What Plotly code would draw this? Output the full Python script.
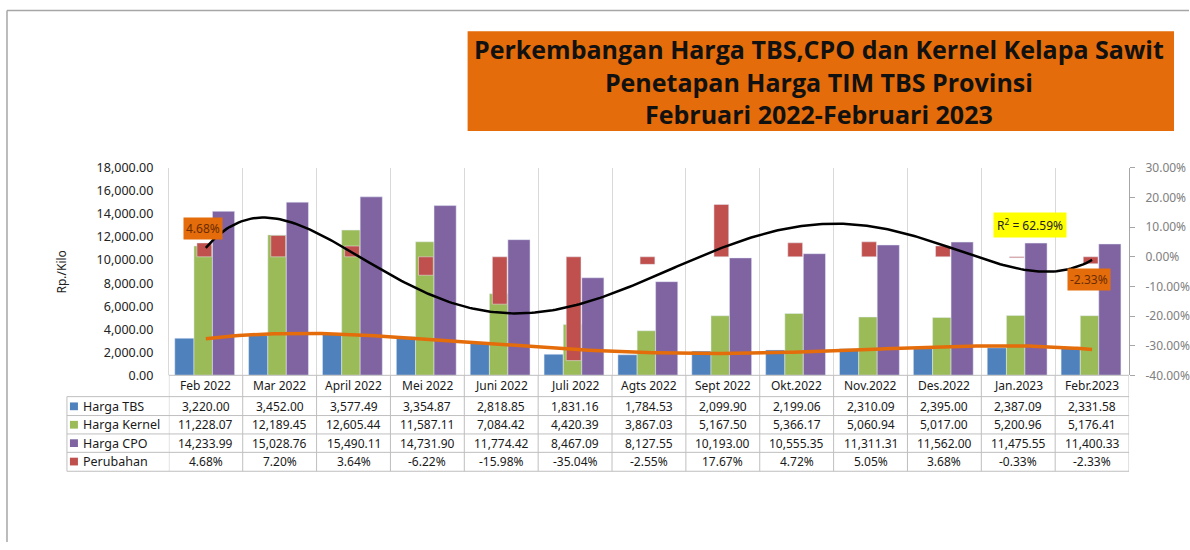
import numpy as np
import plotly.graph_objects as go

# ---------------- data ----------------
categories = ["Feb 2022", "Mar 2022", "April 2022", "Mei 2022", "Juni 2022", "Juli 2022",
              "Agts 2022", "Sept 2022", "Okt.2022", "Nov.2022", "Des.2022", "Jan.2023", "Febr.2023"]
harga_tbs = [3220.00, 3452.00, 3577.49, 3354.87, 2818.85, 1831.16, 1784.53, 2099.90,
             2199.06, 2310.09, 2395.00, 2387.09, 2331.58]
harga_kernel = [11228.07, 12189.45, 12605.44, 11587.11, 7084.42, 4420.39, 3867.03, 5167.50,
                5366.17, 5060.94, 5017.00, 5200.96, 5176.41]
harga_cpo = [14233.99, 15028.76, 15490.11, 14731.90, 11774.42, 8467.09, 8127.55, 10193.00,
             10555.35, 11311.31, 11562.00, 11475.55, 11400.33]
perubahan = [4.68, 7.20, 3.64, -6.22, -15.98, -35.04, -2.55, 17.67, 4.72, 5.05, 3.68, -0.33, -2.33]
left_ticks = [0, 2000, 4000, 6000, 8000, 10000, 12000, 14000, 16000, 18000]
right_ticks = [-40, -30, -20, -10, 0, 10, 20, 30]
title_lines = ["Perkembangan Harga TBS,CPO dan Kernel Kelapa Sawit",
               "Penetapan Harga TIM TBS Provinsi",
               "Februari 2022-Februari 2023"]
row_labels = ["Harga TBS", "Harga Kernel", "Harga CPO", "Perubahan"]
r2_label = "R<sup>2</sup> = 62.59%"

# ---------------- style ----------------
W, H = 1190, 550
C_TBS, C_KER, C_CPO, C_PER = "#4F81BD", "#9BBB59", "#8064A2", "#C0504D"
FONT = "Noto Sans"
PL, PR, PT, PB = 169, 1130, 164, 378   # plot area in px


def px(x):
    return x / W


def py(y):
    return 1 - y / H


n = len(categories)
idx = np.arange(n)

fig = go.Figure()
fig.add_trace(go.Bar(x=idx, y=harga_tbs, name="Harga TBS", marker_color=C_TBS,
                     offset=-0.42, width=0.26, yaxis="y"))
fig.add_trace(go.Bar(x=idx, y=harga_kernel, name="Harga Kernel", marker_color=C_KER,
                     offset=-0.16, width=0.25, yaxis="y"))
fig.add_trace(go.Bar(x=idx, y=harga_cpo, name="Harga CPO", marker_color=C_CPO,
                     offset=0.09, width=0.30, yaxis="y"))
fig.add_trace(go.Bar(x=idx, y=perubahan, name="Perubahan", marker_color=C_PER,
                     offset=-0.12, width=0.20, yaxis="y2"))

# trendlines (polynomial least-squares fits, as Excel does)
xs = np.linspace(0, n - 1, 300)
c_per = np.polyfit(idx + 1, perubahan, 6)          # R^2 = 62.59 %
fig.add_trace(go.Scatter(x=xs, y=np.polyval(c_per, xs + 1), mode="lines",
                         line=dict(color="black", width=2.5), yaxis="y2", hoverinfo="skip"))
c_tbs = np.polyfit(idx + 1, harga_tbs, 4)
fig.add_trace(go.Scatter(x=xs, y=np.polyval(c_tbs, xs + 1), mode="lines",
                         line=dict(color="#E46C0A", width=3.5), yaxis="y3", hoverinfo="skip"))

shapes = []
annotations = []

# outer frame
shapes.append(dict(type="line", xref="paper", yref="paper", x0=px(7), x1=px(W), y0=py(1.5), y1=py(1.5),
                   line=dict(color="#a6a6a6", width=1.5)))
shapes.append(dict(type="line", xref="paper", yref="paper", x0=px(7), x1=px(7), y0=py(1.5), y1=0,
                   line=dict(color="#a6a6a6", width=1.5)))

# title box
shapes.append(dict(type="rect", xref="paper", yref="paper", x0=px(468), x1=px(1175),
                   y0=py(126), y1=py(23), fillcolor="#E46C0A", line=dict(width=0), layer="below"))
annotations.append(dict(text="<br>".join(title_lines), xref="paper", yref="paper", x=px(820), y=py(75),
                        showarrow=False, xanchor="center", yanchor="middle", align="center",
                        font=dict(family="Open Sans", size=25, color="#111", weight="bold")))

# y-axis title
annotations.append(dict(text="Rp./Kilo", xref="paper", yref="paper", x=px(62), y=py(271),
                        showarrow=False, textangle=-90, xanchor="center", yanchor="middle",
                        font=dict(family=FONT, size=12, color="#222")))

# data labels
annotations.append(dict(text=f"{perubahan[0]:.2f}%", xref="x", yref="y2", x=0, y=perubahan[0],
                        xshift=-3, yshift=3, showarrow=False, xanchor="center", yanchor="bottom",
                        bgcolor="#E46C0A", borderpad=2,
                        font=dict(family=FONT, size=12, color="#6b2d00")))
annotations.append(dict(text=f"{perubahan[-1]:.2f}%", xref="x", yref="y2", x=n - 1, y=perubahan[-1],
                        xshift=-3, yshift=-4, showarrow=False, xanchor="center", yanchor="top",
                        bgcolor="#E46C0A", borderpad=2,
                        font=dict(family=FONT, size=12, color="#6b2d00")))
annotations.append(dict(text=r2_label, xref="x", yref="y2", x=11.16, y=10.7,
                        showarrow=False, xanchor="center", yanchor="middle", bgcolor="#FFFF00", borderpad=3,
                        font=dict(family=FONT, size=12, color="#222")))

# ---------------- data table ----------------
row_y = [410, 429, 448, 467]
hdr_y = 388
h_lines = [400, 419.5, 438.5, 457.5, 477]
grid_col = "#bfbfbf"
shapes.append(dict(type="line", xref="paper", yref="paper", x0=px(PL), x1=px(PR), y0=py(PB), y1=py(PB),
                   line=dict(color=grid_col, width=1)))
for hy in h_lines:
    shapes.append(dict(type="line", xref="paper", yref="paper", x0=px(67), x1=px(PR), y0=py(hy), y1=py(hy),
                       line=dict(color=grid_col, width=1)))
shapes.append(dict(type="line", xref="paper", yref="paper", x0=px(67), x1=px(67), y0=py(400), y1=py(477),
                   line=dict(color=grid_col, width=1)))
for b in np.arange(-0.5, n, 1.0):
    shapes.append(dict(type="line", xref="x", yref="paper", x0=b, x1=b, y0=py(PB), y1=py(477),
                       line=dict(color=grid_col, width=1)))

for i, cat in enumerate(categories):
    annotations.append(dict(text=cat, xref="x", yref="paper", x=i, y=py(hdr_y), showarrow=False,
                            xanchor="center", yanchor="middle",
                            font=dict(family=FONT, size=12, color="#1a1a1a")))
    vals = [f"{harga_tbs[i]:,.2f}", f"{harga_kernel[i]:,.2f}", f"{harga_cpo[i]:,.2f}",
            f"{perubahan[i]:.2f}%"]
    for v, ry in zip(vals, row_y):
        annotations.append(dict(text=v, xref="x", yref="paper", x=i, y=py(ry), showarrow=False,
                                xanchor="center", yanchor="middle",
                                font=dict(family=FONT, size=12, color="#1a1a1a")))

for lab, col, ry in zip(row_labels, (C_TBS, C_KER, C_CPO, C_PER), row_y):
    shapes.append(dict(type="rect", xref="paper", yref="paper", x0=px(70), x1=px(78),
                       y0=py(ry + 4), y1=py(ry - 4), fillcolor=col, line=dict(width=0)))
    annotations.append(dict(text=lab, xref="paper", yref="paper", x=px(81), y=py(ry), showarrow=False,
                            xanchor="left", yanchor="middle",
                            font=dict(family=FONT, size=12.5, color="#1a1a1a")))

fig.update_layout(
    width=W, height=H, margin=dict(l=0, r=0, t=0, b=0),
    paper_bgcolor="white", plot_bgcolor="white",
    barmode="overlay", showlegend=False,
    xaxis=dict(domain=[px(PL), px(PR)], range=[-0.5, n - 0.5],
               tickvals=list(np.arange(-0.5, n, 1.0)), showticklabels=False,
               showgrid=True, gridcolor="#d9d9d9", gridwidth=1, zeroline=False, showline=False, ticks=""),
    yaxis=dict(domain=[py(PB), py(PT)], range=[0, 18000], tickvals=left_ticks, tickformat=",.2f",
               showgrid=False, zeroline=False, showline=True, linecolor="#d9d9d9", ticks="",
               ticklabelstandoff=12, tickfont=dict(family=FONT, size=12.5, color="#222")),
    yaxis2=dict(overlaying="y", side="right", range=[-40, 30], tickvals=right_ticks,
                ticktext=[f"{v:.2f}%" for v in right_ticks], showgrid=False, zeroline=False,
                showline=True, linecolor="#a6a6a6", ticks="outside", ticklen=5, tickcolor="#a6a6a6",
                ticklabelstandoff=8, tickfont=dict(family=FONT, size=12, color="#808080")),
    yaxis3=dict(overlaying="y", range=[0, 18000], visible=False),
    shapes=shapes, annotations=annotations,
)

fig.write_html("out.html", config={"displayModeBar": False},
               post_script="document.body.style.margin='0';")
